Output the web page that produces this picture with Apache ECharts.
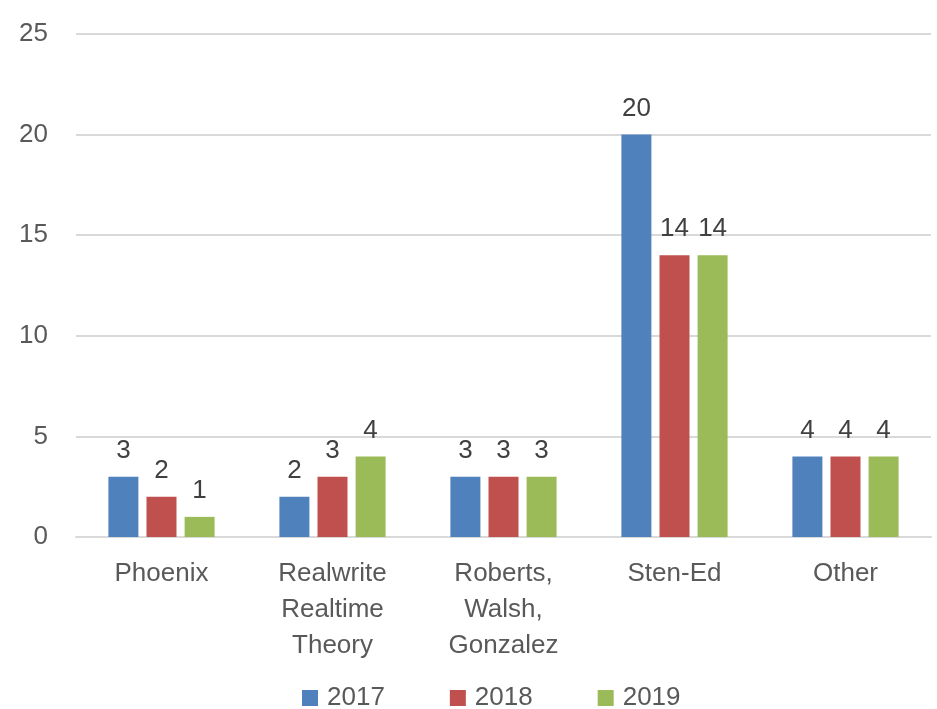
<!DOCTYPE html>
<html><head><meta charset="utf-8">
<script src="https://cdn.jsdelivr.net/npm/echarts@6/dist/echarts.min.js"></script>
<style>html,body{margin:0;padding:0;background:#fff}#c{width:937px;height:709px}</style>
</head><body><div id="c"></div>
<script>
const categories = ["Phoenix", "Realwrite\nRealtime\nTheory", "Roberts,\nWalsh,\nGonzalez", "Sten-Ed", "Other"];
const years = ["2017", "2018", "2019"];
const values2017 = [3, 2, 3, 20, 4];
const values2018 = [2, 3, 3, 14, 4];
const values2019 = [1, 4, 3, 14, 4];
const yTicks = [0, 5, 10, 15, 20, 25];
const colors = ["#4F81BD", "#C0504D", "#9BBB59"];
const FONT = "Liberation Sans";
const chart = echarts.init(document.getElementById('c'));
const seriesData = [values2017, values2018, values2019];
chart.setOption({
  animation: false,
  textStyle: {fontFamily: FONT},
  grid: {left: 76, top: 34, width: 855, height: 503, containLabel: false},
  legend: {
    top: 685, left: 302, itemWidth: 16, itemHeight: 16, itemGap: 65, padding: 0,
    icon: 'rect',
    textStyle: {fontFamily: FONT, fontSize: 26, lineHeight: 26, color: '#595959', padding: [0, 0, 0, 4]},
    data: years
  },
  xAxis: {
    type: 'category', data: categories,
    axisLine: {lineStyle: {color: '#D9D9D9', width: 2}},
    axisTick: {show: false},
    axisLabel: {fontFamily: FONT, fontSize: 26, color: '#595959', lineHeight: 36, margin: 19, interval: 0}
  },
  yAxis: {
    type: 'value', min: 0, max: 25, interval: 5,
    axisLine: {show: false}, axisTick: {show: false},
    splitLine: {lineStyle: {color: '#D9D9D9', width: 2}},
    axisLabel: {fontFamily: FONT, fontSize: 26, color: '#595959', margin: 28, formatter: v => yTicks.includes(v) ? String(v) : ''}
  },
  series: years.map((y, i) => ({
    name: y, type: 'bar', data: seriesData[i],
    barWidth: 30, barGap: '27%', barCategoryGap: '38%',
    itemStyle: {color: colors[i]},
    label: {show: true, position: 'top', distance: 13, fontFamily: FONT, fontSize: 26, color: '#404040'}
  }))
});
</script></body></html>
